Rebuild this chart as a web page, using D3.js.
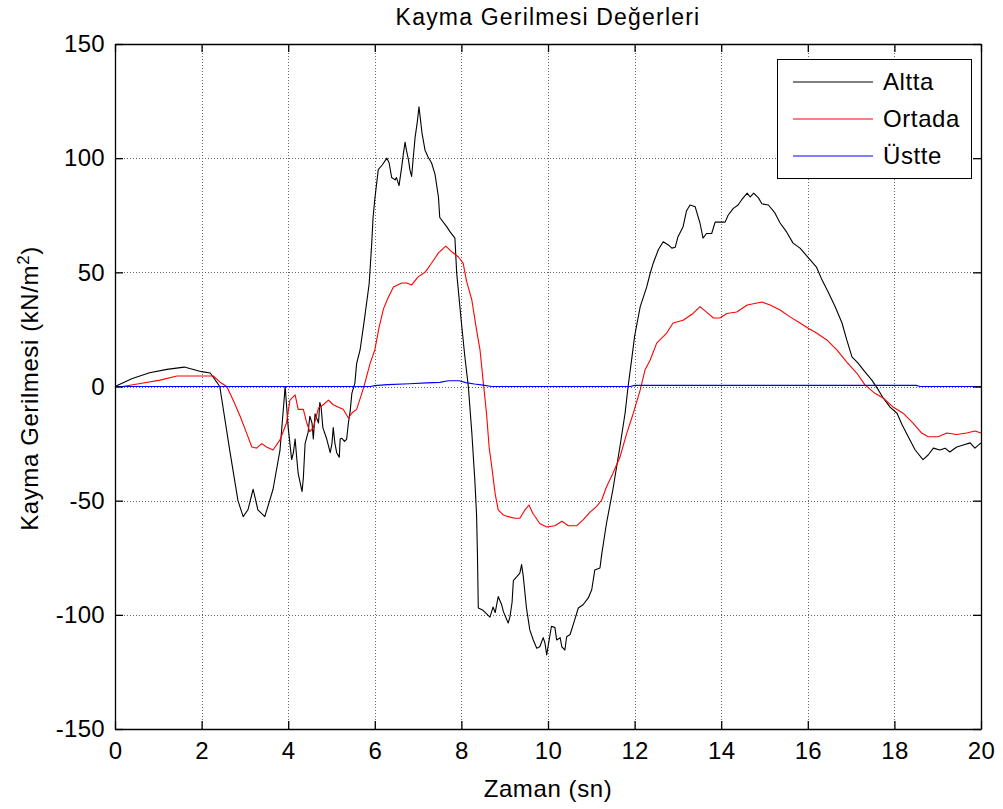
<!DOCTYPE html>
<html>
<head>
<meta charset="utf-8">
<script src="https://cdn.jsdelivr.net/npm/d3@7"></script>
<style>
  html, body { margin: 0; padding: 0; background: #fff; }
  svg { display: block; font-family: "Liberation Sans", Arial, sans-serif; }
</style>
</head>
<body>
<svg id="chart" width="1003" height="809"></svg>
<script>
// Shear stress time histories: [time (s), stress (kN/m^2)]
const altta = [
  [0,0],[0.4,3.5],[0.8,6],[1.2,7.5],[1.6,8.5],[2.0,6.5],[2.2,5.9],[2.42,0],[2.65,-28],[2.84,-50],
  [2.96,-57],[3.07,-54],[3.19,-45],[3.3,-54],[3.46,-57],[3.65,-45],[3.81,-28],[3.93,0],[4.0,-18],[4.08,-32],
  [4.12,-29],[4.16,-23],[4.2,-32],[4.23,-38],[4.32,-46],[4.35,-40],[4.39,-25],[4.46,-20],[4.5,-13],[4.55,-16],
  [4.58,-23],[4.62,-12],[4.7,-16],[4.73,-7],[4.76,-9],[4.8,-18],[4.89,-23],[4.97,-29],[5.01,-25],[5.04,-18],
  [5.08,-25],[5.12,-29],[5.18,-31],[5.2,-23],[5.24,-22.7],[5.3,-24],[5.35,-23],[5.39,-16],[5.43,-11],[5.47,-3],
  [5.54,1.5],[5.58,10],[5.66,16],[5.75,28],[5.87,45],[5.93,63],[5.96,74],[6.0,82],[6.08,95],[6.17,97],
  [6.28,100],[6.33,98],[6.39,91.5],[6.47,90.5],[6.5,91.5],[6.56,88],[6.62,96],[6.66,102],[6.7,107],[6.73,103.5],
  [6.78,99],[6.81,95],[6.85,92],[6.89,100.5],[6.93,109],[6.98,115.7],[7.02,122.5],[7.06,116],[7.09,111],[7.16,103.5],
  [7.23,100.5],[7.31,98],[7.39,93],[7.47,83],[7.5,74],[7.66,70],[7.74,67.7],[7.85,65],[7.89,50],[7.93,42],
  [8.0,28],[8.08,13],[8.16,0],[8.24,-20],[8.31,-41],[8.35,-56],[8.37,-73],[8.39,-97],[8.5,-98],[8.66,-101],
  [8.73,-96.6],[8.78,-99],[8.85,-92],[8.93,-95.6],[8.97,-98.6],[9.08,-103.6],[9.12,-101],[9.17,-94.6],[9.2,-85],[9.28,-83.3],
  [9.35,-81.7],[9.39,-78],[9.43,-83.3],[9.5,-96.6],[9.58,-106.6],[9.66,-111],[9.74,-114.6],[9.81,-114],[9.89,-110],[9.93,-112.4],
  [9.97,-117.6],[10.0,-114],[10.08,-105],[10.16,-105.6],[10.2,-111],[10.28,-110],[10.32,-114],[10.39,-115.4],[10.43,-109.6],[10.51,-108.6],
  [10.62,-102],[10.7,-97],[10.81,-95.6],[10.93,-92.6],[11.01,-89],[11.08,-80.4],[11.2,-79.5],[11.24,-73.5],[11.35,-60],[11.5,-45],
  [11.66,-26.5],[11.78,-11.7],[11.85,0],[11.94,13],[12.0,22],[12.13,35],[12.28,43.6],[12.36,49.6],[12.43,54],[12.55,60],
  [12.66,63.4],[12.78,62],[12.86,60.6],[12.94,61],[13.0,65.5],[13.12,70],[13.2,77],[13.28,79.5],[13.4,78.7],[13.44,76],
  [13.51,71.6],[13.58,65],[13.66,67],[13.78,67],[13.86,72],[13.97,72],[14.09,72],[14.16,75],[14.28,78],[14.39,79.5],
  [14.47,81.7],[14.6,84.7],[14.67,83],[14.75,84.7],[14.86,82.6],[14.94,80],[15.09,79.5],[15.24,76],[15.36,71.6],[15.51,67.7],
  [15.66,62.8],[15.82,60.6],[16.0,56.7],[16.2,52.3],[16.33,46.6],[16.47,41.4],[16.63,35],[16.79,27.8],[16.9,20.4],[17.02,13],
  [17.16,10.2],[17.32,6.4],[17.48,2.8],[17.63,-1.5],[17.74,-5],[17.9,-9],[18.06,-11.7],[18.18,-16.9],[18.32,-22],[18.48,-27.8],
  [18.66,-32],[18.78,-30],[18.9,-27],[19.05,-27.8],[19.17,-27],[19.28,-28.7],[19.44,-26.5],[19.59,-25.6],[19.75,-24.7],[19.86,-27],
  [20.0,-24.7]
];

const ortada = [
  [0,0],[0.18,0],[0.65,1.5],[1.04,2.8],[1.43,4.6],[1.8,4.6],[2.27,4.6],[2.42,2],[2.58,0],[2.73,-6],
  [2.89,-13],[3.04,-20.4],[3.16,-26.5],[3.27,-27],[3.39,-25],[3.5,-26.5],[3.65,-27.8],[3.81,-23.4],[3.96,-16],[4.04,-6],
  [4.16,-3.7],[4.23,-10],[4.35,-10],[4.43,-16],[4.5,-19.8],[4.58,-18],[4.7,-9.4],[4.81,-8],[4.93,-6],[5.04,-8],
  [5.2,-9.4],[5.27,-10],[5.39,-13.8],[5.47,-11.6],[5.58,-10],[5.7,-3],[5.77,1.5],[5.89,10],[6.0,16],[6.1,26],
  [6.2,34],[6.31,39],[6.43,43.6],[6.62,45.3],[6.74,45.3],[6.85,44.5],[7.0,48],[7.16,50],[7.31,54],[7.47,58.5],
  [7.64,61.5],[7.78,59],[7.93,56.7],[8.04,54],[8.12,46],[8.24,38],[8.35,24.7],[8.43,16],[8.5,2.8],[8.58,-11.7],
  [8.64,-26.5],[8.7,-35],[8.78,-47],[8.85,-54],[8.97,-56.3],[9.08,-57],[9.24,-57.7],[9.35,-57.7],[9.47,-54],[9.56,-51.9],
  [9.65,-55.5],[9.81,-60],[9.97,-61.5],[10.16,-61],[10.32,-59],[10.47,-61],[10.66,-61],[10.81,-58.4],[10.97,-55],[11.12,-52.6],
  [11.24,-49.7],[11.35,-44],[11.5,-38],[11.66,-31],[11.82,-20.4],[11.97,-11.7],[12.13,-1.5],[12.24,7.2],[12.36,11.6],[12.51,19],
  [12.74,23.4],[12.89,27.8],[13.12,29],[13.35,32],[13.51,35],[13.66,32.6],[13.82,30],[13.97,30],[14.13,32],[14.36,32.6],
  [14.6,35.7],[14.83,36.6],[14.94,37],[15.13,35.7],[15.36,33.5],[15.59,30.5],[15.82,27.8],[16.0,25.6],[16.2,23.4],[16.44,20.4],
  [16.67,16],[16.9,10.7],[17.13,5.9],[17.32,0.7],[17.55,-3],[17.74,-5],[17.97,-9],[18.2,-11.7],[18.43,-16],[18.63,-20.4],
  [18.78,-22],[19.01,-22],[19.21,-20.4],[19.44,-21],[19.67,-20.4],[19.86,-19.5],[20.0,-20.4]
];

const ustte = [
  [0,0],[5.9,0],[6.0,0.4],[6.3,0.8],[6.8,1.2],[7.2,1.6],[7.5,1.8],[7.7,2.5],[7.95,2.5],[8.1,1.7],
  [8.3,1.1],[8.5,0.6],[8.7,0],[11.9,0],[12.0,0.5],[18.5,0.5],[18.6,0],[20,0]
];

const seriesNames = ["Altta", "Ortada", "Üstte"];
const seriesColors = ["#000000", "#ff0000", "#0000ff"];
const xTicks = [0, 2, 4, 6, 8, 10, 12, 14, 16, 18, 20];
const yTicks = [-150, -100, -50, 0, 50, 100, 150];

const svg = d3.select("#chart");
const W = 1003, H = 809;
svg.append("rect").attr("width", W).attr("height", H).attr("fill", "#fff");

const plot = { left: 115, right: 981, top: 44, bottom: 729 };
const x = d3.scaleLinear().domain([0, 20]).range([plot.left, plot.right]);
const y = d3.scaleLinear().domain([-150, 150]).range([plot.bottom, plot.top]);

// dotted grid
const grid = svg.append("g").attr("stroke", "#666").attr("stroke-width", 1)
  .attr("stroke-dasharray", "1,2").attr("shape-rendering", "crispEdges");
xTicks.slice(1, -1).forEach(t => {
  grid.append("line").attr("x1", Math.round(x(t)) + 0.5).attr("x2", Math.round(x(t)) + 0.5)
    .attr("y1", plot.top).attr("y2", plot.bottom);
});
yTicks.slice(1, -1).forEach(t => {
  grid.append("line").attr("y1", Math.round(y(t)) + 0.5).attr("y2", Math.round(y(t)) + 0.5)
    .attr("x1", plot.left).attr("x2", plot.right);
});

// series
const line = d3.line().x(d => x(d[0])).y(d => y(d[1]));
const allSeries = [altta, ortada, ustte];
allSeries.forEach((s, i) => {
  svg.append("path").datum(s).attr("d", line).attr("fill", "none")
    .attr("stroke", seriesColors[i]).attr("stroke-width", 1.1)
    .attr("stroke-linejoin", "round");
});

// axes (ticks drawn inward on all four sides)
const tickLen = 8;
const fs = 24;
const ls = 0.6;
const plain = d => String(d);
const xAxisB = d3.axisBottom(x).tickValues(xTicks).tickFormat(plain).tickSizeInner(-tickLen).tickSizeOuter(0).tickPadding(13);
const xAxisT = d3.axisTop(x).tickValues(xTicks).tickSizeInner(-tickLen).tickSizeOuter(0).tickFormat("");
const yAxisL = d3.axisLeft(y).tickValues(yTicks).tickFormat(plain).tickSizeInner(-tickLen).tickSizeOuter(0).tickPadding(10);
const yAxisR = d3.axisRight(y).tickValues(yTicks).tickSizeInner(-tickLen).tickSizeOuter(0).tickFormat("");

function styleAxis(g) {
  g.select(".domain").attr("stroke", "#000").attr("stroke-width", 1.3);
  g.selectAll(".tick line").attr("stroke", "#000").attr("stroke-width", 1.3);
  g.selectAll(".tick text").attr("fill", "#000").attr("font-size", fs)
    .attr("letter-spacing", 0.3)
    .attr("font-family", "'Liberation Sans', Arial, sans-serif");
}
svg.append("g").attr("transform", `translate(0,${plot.bottom})`).call(xAxisB).call(styleAxis);
svg.append("g").attr("transform", `translate(0,${plot.top})`).call(xAxisT).call(styleAxis);
svg.append("g").attr("transform", `translate(${plot.left},0)`).call(yAxisL).call(styleAxis);
svg.append("g").attr("transform", `translate(${plot.right},0)`).call(yAxisR).call(styleAxis);

// titles
svg.append("text").attr("x", (plot.left + plot.right) / 2).attr("y", 25)
  .attr("text-anchor", "middle").attr("font-size", 23).attr("letter-spacing", 1.2)
  .text("Kayma Gerilmesi Değerleri");
svg.append("text").attr("x", (plot.left + plot.right) / 2).attr("y", 797)
  .attr("text-anchor", "middle").attr("font-size", fs).attr("letter-spacing", ls).text("Zaman (sn)");
const yl = svg.append("text").attr("transform", `translate(38,${(plot.top + plot.bottom) / 2 + 2}) rotate(-90)`)
  .attr("text-anchor", "middle").attr("font-size", fs).attr("letter-spacing", ls);
yl.append("tspan").text("Kayma Gerilmesi (kN/m");
yl.append("tspan").attr("font-size", 17).attr("dy", -9).text("2");
yl.append("tspan").attr("dy", 9).text(")");

// legend
const lg = { x: 777, y: 59, w: 194, h: 119 };
svg.append("rect").attr("x", lg.x + 0.5).attr("y", lg.y + 0.5).attr("width", lg.w).attr("height", lg.h)
  .attr("fill", "#fff").attr("stroke", "#000").attr("stroke-width", 1);
seriesNames.forEach((n, i) => {
  const cy = lg.y + 23 + i * 37;
  svg.append("line").attr("x1", lg.x + 16).attr("x2", lg.x + 96).attr("y1", cy).attr("y2", cy)
    .attr("stroke", seriesColors[i]).attr("stroke-width", 1.1);
  svg.append("text").attr("x", lg.x + 106).attr("y", cy + 8).attr("font-size", fs)
    .attr("letter-spacing", ls).text(n);
});
</script>
</body>
</html>
